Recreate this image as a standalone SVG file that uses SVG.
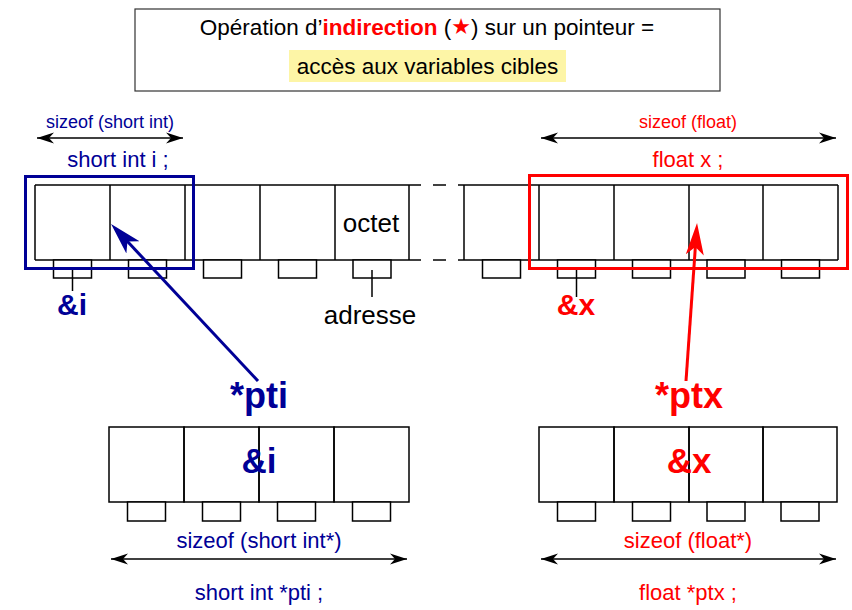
<svg xmlns="http://www.w3.org/2000/svg" width="852" height="610" viewBox="0 0 852 610">
<defs>
<style>
text{font-family:"Liberation Sans",Arial,sans-serif;}
.cell{fill:none;stroke:#000;stroke-width:1.5;}
.adr{fill:#fff;stroke:#000;stroke-width:1.5;}
.ln{stroke:#000;stroke-width:1.5;fill:none;}
.blue{fill:#000096;}
.red{fill:#ff0000;}
.blk{fill:#000;}
.dim{stroke:#000;stroke-width:1.5;fill:none;marker-start:url(#ah);marker-end:url(#ah);}
</style>
<marker id="ah" markerUnits="userSpaceOnUse" viewBox="-18 -7 20 14" refX="0" refY="0" markerWidth="20" markerHeight="14" orient="auto-start-reverse">
<path d="M0,0 L-17,-5.5 L-12,0 L-17,5.5 Z" fill="#000"/>
</marker>
<marker id="ahb" markerUnits="userSpaceOnUse" viewBox="0 -11 34 22" refX="10" refY="0" markerWidth="34" markerHeight="22" orient="auto">
<path d="M32,0 L0,-9 L8,0 L0,9 Z" fill="#000096"/>
</marker>
<marker id="ahr" markerUnits="userSpaceOnUse" viewBox="0 -11 34 22" refX="10" refY="0" markerWidth="34" markerHeight="22" orient="auto">
<path d="M32,0 L0,-9 L8,0 L0,9 Z" fill="#ff0000"/>
</marker>
</defs>

<g id="title">
<rect x="135" y="9" width="585" height="82" fill="#fff" stroke="#333" stroke-width="1.2"/>
<rect x="289" y="50" width="277" height="32" fill="#fdf5a6"/>
<text x="427" y="35" font-size="22.5" text-anchor="middle" class="blk">Opération d’<tspan class="red" font-weight="bold">indirection</tspan> (<tspan class="red" font-family="DejaVu Sans" font-size="22" dy="-1">★</tspan><tspan dy="1">) sur un pointeur =</tspan></text>
<text x="427.5" y="74" font-size="22.5" text-anchor="middle" class="blk">accès aux variables cibles</text>
</g>

<g id="memory">
<line class="ln" x1="35" y1="185" x2="421" y2="185"/>
<line class="ln" x1="35" y1="260" x2="421" y2="260"/>
<line class="ln" x1="433" y1="185" x2="446" y2="185"/>
<line class="ln" x1="433" y1="260" x2="446" y2="260"/>
<line class="ln" x1="458" y1="185" x2="838" y2="185"/>
<line class="ln" x1="458" y1="260" x2="838" y2="260"/>
<g class="ln">
<line x1="35" y1="185" x2="35" y2="260"/>
<line x1="110" y1="185" x2="110" y2="260"/>
<line x1="185" y1="185" x2="185" y2="260"/>
<line x1="260" y1="185" x2="260" y2="260"/>
<line x1="335" y1="185" x2="335" y2="260"/>
<line x1="409" y1="185" x2="409" y2="260"/>
<line x1="464" y1="185" x2="464" y2="260"/>
<line x1="539" y1="185" x2="539" y2="260"/>
<line x1="614" y1="185" x2="614" y2="260"/>
<line x1="689" y1="185" x2="689" y2="260"/>
<line x1="763" y1="185" x2="763" y2="260"/>
<line x1="838" y1="185" x2="838" y2="260"/>
</g>
<rect class="adr" x="53.5" y="260" width="38" height="18"/>
<rect class="adr" x="128.5" y="260" width="38" height="18"/>
<rect class="adr" x="203.5" y="260" width="38" height="18"/>
<rect class="adr" x="278.5" y="260" width="38" height="18"/>
<rect class="adr" x="353" y="260" width="38" height="18"/>
<rect class="adr" x="482.5" y="260" width="38" height="18"/>
<rect class="adr" x="557.5" y="260" width="38" height="18"/>
<rect class="adr" x="632.5" y="260" width="38" height="18"/>
<rect class="adr" x="707" y="260" width="38" height="18"/>
<rect class="adr" x="781.5" y="260" width="38" height="18"/>
<line class="ln" x1="72.5" y1="270" x2="72.5" y2="291"/>
<line class="ln" x1="372" y1="270" x2="372" y2="297"/>
<line class="ln" x1="576.5" y1="270" x2="576.5" y2="297"/>
<text x="371" y="232" font-size="26" text-anchor="middle" class="blk">octet</text>
<text x="370" y="324" font-size="26" text-anchor="middle" class="blk">adresse</text>
</g>

<g id="var-i">
<rect x="25.5" y="176.5" width="168" height="92" fill="none" stroke="#000096" stroke-width="3"/>
<text x="110" y="128" font-size="18" text-anchor="middle" class="blue">sizeof (short int)</text>
<text x="118" y="167" font-size="22" text-anchor="middle" class="blue">short int i ;</text>
<text x="72" y="315" font-size="30" font-weight="bold" text-anchor="middle" class="blue">&amp;i</text>
</g>

<g id="var-x">
<rect x="529.5" y="175.5" width="318" height="93" fill="none" stroke="#ff0000" stroke-width="3"/>
<text x="688" y="128" font-size="18" text-anchor="middle" class="red">sizeof (float)</text>
<text x="688" y="167" font-size="22" text-anchor="middle" class="red">float x ;</text>
<text x="576" y="315" font-size="30" font-weight="bold" text-anchor="middle" class="red">&amp;x</text>
</g>

<g id="ptr-pti">
<g class="cell">
<rect x="109" y="427" width="75" height="75"/>
<rect x="184" y="427" width="75" height="75"/>
<rect x="259" y="427" width="75" height="75"/>
<rect x="334" y="427" width="75" height="75"/>
</g>
<rect class="adr" x="127.5" y="502" width="38" height="19"/>
<rect class="adr" x="202.5" y="502" width="38" height="19"/>
<rect class="adr" x="277.5" y="502" width="38" height="19"/>
<rect class="adr" x="352.5" y="502" width="38" height="19"/>
<text x="259" y="473" font-size="35" font-weight="bold" text-anchor="middle" class="blue">&amp;i</text>
<text x="259" y="408" font-size="36" font-weight="bold" text-anchor="middle" class="blue">*pti</text>
<text x="259" y="548" font-size="22" text-anchor="middle" class="blue">sizeof (short int*)</text>
<text x="259" y="600" font-size="22" text-anchor="middle" class="blue">short int *pti ;</text>
</g>

<g id="ptr-ptx">
<g class="cell">
<rect x="539" y="427" width="75" height="75"/>
<rect x="614" y="427" width="75" height="75"/>
<rect x="689" y="427" width="74" height="75"/>
<rect x="763" y="427" width="74" height="75"/>
</g>
<rect class="adr" x="557.5" y="502" width="38" height="19"/>
<rect class="adr" x="632.5" y="502" width="38" height="19"/>
<rect class="adr" x="707" y="502" width="38" height="19"/>
<rect class="adr" x="781" y="502" width="38" height="19"/>
<text x="689" y="473" font-size="35" font-weight="bold" text-anchor="middle" class="red">&amp;x</text>
<text x="689" y="408" font-size="36" font-weight="bold" text-anchor="middle" class="red">*ptx</text>
<text x="688" y="548" font-size="22" text-anchor="middle" class="red">sizeof (float*)</text>
<text x="688" y="600" font-size="22" text-anchor="middle" class="red">float *ptx ;</text>
</g>

<g id="connectors">
<line class="dim" x1="37" y1="138" x2="183" y2="138"/>
<line class="dim" x1="541" y1="138" x2="836" y2="138"/>
<line class="dim" x1="111" y1="559" x2="407" y2="559"/>
<line class="dim" x1="541" y1="559" x2="836" y2="559"/>
<line x1="258" y1="381" x2="126.1" y2="240" stroke="#000096" stroke-width="3" marker-end="url(#ahb)"/>
<line x1="686" y1="381" x2="695.5" y2="245" stroke="#ff0000" stroke-width="3" marker-end="url(#ahr)"/>
</g>
</svg>
